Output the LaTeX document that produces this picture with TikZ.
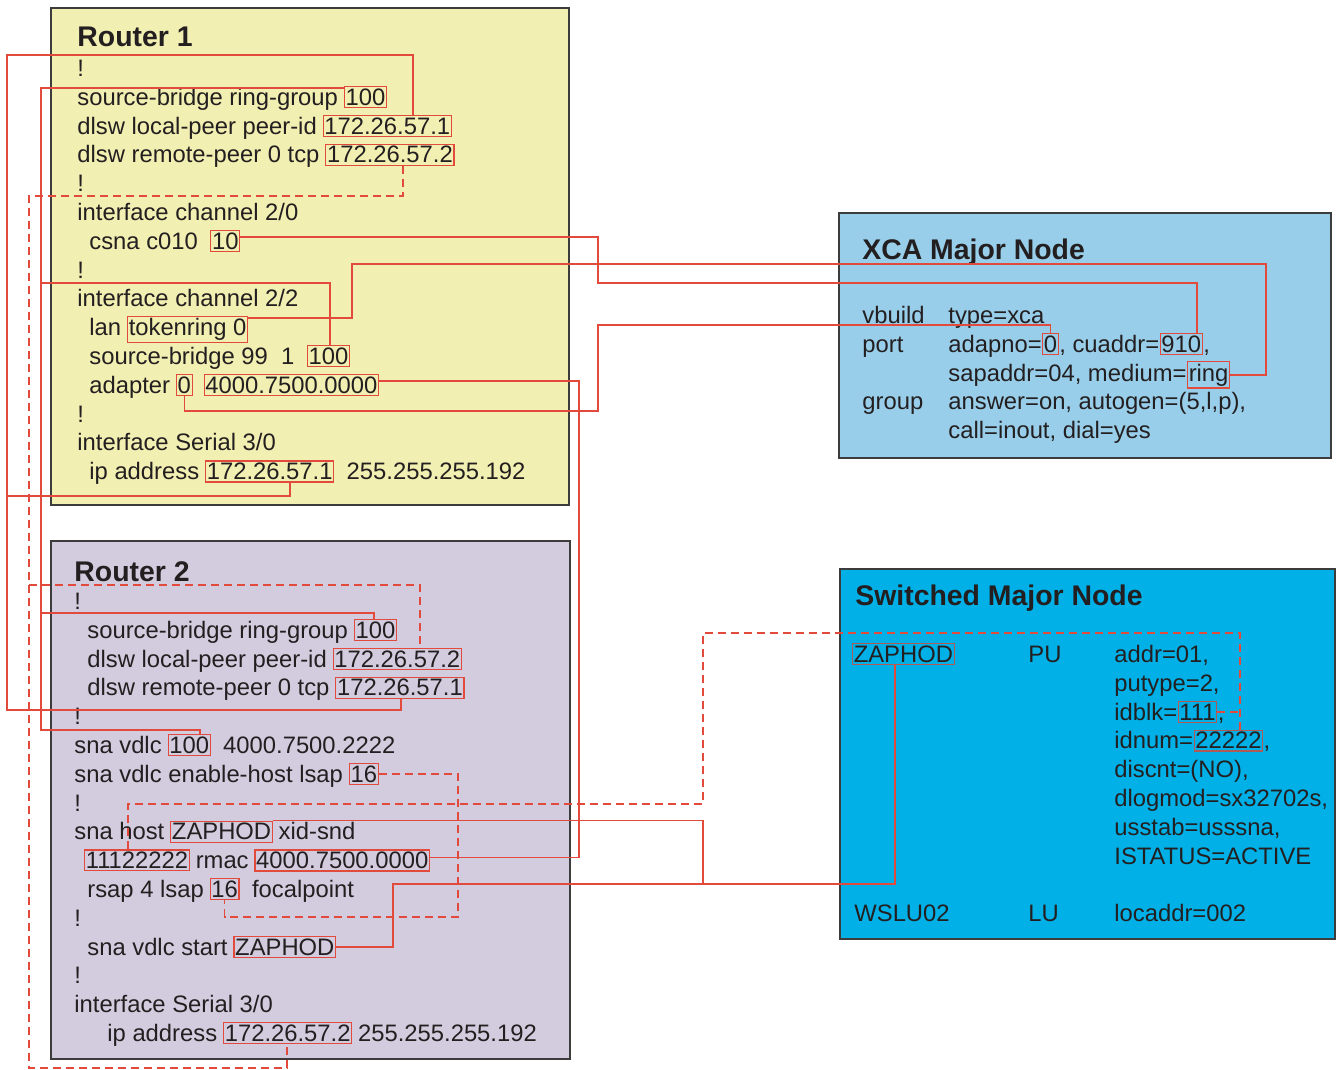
\documentclass[tikz,border=0pt]{standalone}
\usepackage{fontspec}
\setmainfont{Liberation Sans}
\definecolor{rOnec}{HTML}{F2EFB2}
\definecolor{rTwoc}{HTML}{D2CCDE}
\definecolor{xcac}{HTML}{98CEEA}
\definecolor{swc}{HTML}{00B0E6}
\definecolor{panelc}{HTML}{3C3C3C}
\definecolor{lnred}{HTML}{E24A3B}
\definecolor{svalc}{HTML}{B05A55}
\definecolor{txtc}{HTML}{231F20}
\newcommand\mainsz{\fontsize{11.9}{14}\selectfont}
\newcommand\ttlsz{\fontsize{14.2}{17}\selectfont\bfseries}
\begin{document}
\begin{tikzpicture}[x=0.5pt,y=-0.5pt,
 txt/.style={inner sep=0pt, anchor=base west, font=\mainsz, text=txtc},
 ttl/.style={inner sep=0pt, anchor=base west, font=\ttlsz, text=txtc},
 val/.style={txt, draw=lnred, line width=0.6pt, inner xsep=0.6pt, inner ysep=1pt},
 sval/.style={val, draw=svalc},
 con/.style={draw=lnred, line width=0.7pt},
 dcon/.style={con, dash pattern=on 4pt off 2.5pt},
 panel/.style={draw=panelc, line width=0.8pt}]
\useasboundingbox (0,0) rectangle (1338,1070);
\fill[white] (0,0) rectangle (1338,1070);
% panels
\draw[panel, fill=rOnec] (51,8) rectangle (569,505);
\draw[panel, fill=rTwoc] (51,541) rectangle (570,1059);
\draw[panel, fill=xcac] (839,213) rectangle (1331,458);
\draw[panel, fill=swc] (840,569) rectangle (1335,939);
% Router 1
\node[ttl] (r1t) at (77,47) {Router 1};
\node[txt] (r1b0) at (77,76.5) {!};
\node[txt] (r1l1) at (77,105.3) {source-bridge ring-group};
\node[val] (r1rg) at ([xshift=2.7pt]r1l1.base east) {100};
\node[txt] (r1l2) at (77,134.1) {dlsw local-peer peer-id};
\node[val] (r1lp) at ([xshift=2.7pt]r1l2.base east) {172.26.57.1};
\node[txt] (r1l3) at (77,162.9) {dlsw remote-peer 0 tcp};
\node[val] (r1rp) at ([xshift=2.7pt]r1l3.base east) {172.26.57.2};
\node[txt] (r1b4) at (77,191.7) {!};
\node[txt] (r1l5) at (77,220.5) {interface channel 2/0};
\node[txt] (r1l6) at (89,249.3) {csna c010};
\node[val] (r1cu) at ([xshift=6pt]r1l6.base east) {10};
\node[txt] (r1b7) at (77,278.1) {!};
\node[txt] (r1l8) at (77,306.9) {interface channel 2/2};
\node[txt] (r1l9) at (89,335.7) {lan};
\node[val] (r1tr) at ([xshift=2.7pt]r1l9.base east) {tokenring 0};
\node[txt] (r1l10) at (89,364.5) {source-bridge 99\ \ 1};
\node[val] (r1sb) at ([xshift=6pt]r1l10.base east) {100};
\node[txt] (r1l11) at (89,393.3) {adapter};
\node[val] (r1ad) at ([xshift=2.7pt]r1l11.base east) {0};
\node[val] (r1mac) at ([xshift=5.4pt]r1ad.base east) {4000.7500.0000};
\node[txt] (r1b12) at (77,422.1) {!};
\node[txt] (r1l13) at (77,450.9) {interface Serial 3/0};
\node[txt] (r1l14) at (89,479.7) {ip address};
\node[val] (r1ip) at ([xshift=2.7pt]r1l14.base east) {172.26.57.1};
\node[txt] (r1mask) at ([xshift=6pt]r1ip.base east) {255.255.255.192};
% Router 2
\node[ttl] (r2t) at (74,581) {Router 2};
\node[txt] (r2b0) at (74,609.5) {!};
\node[txt] (r2l1) at (87,638.3) {source-bridge ring-group};
\node[val] (r2rg) at ([xshift=2.7pt]r2l1.base east) {100};
\node[txt] (r2l2) at (87,667.1) {dlsw local-peer peer-id};
\node[val] (r2lp) at ([xshift=2.7pt]r2l2.base east) {172.26.57.2};
\node[txt] (r2l3) at (87,695.9) {dlsw remote-peer 0 tcp};
\node[val] (r2rp) at ([xshift=2.7pt]r2l3.base east) {172.26.57.1};
\node[txt] (r2b4) at (74,724.7) {!};
\node[txt] (r2l5) at (74,753.5) {sna vdlc};
\node[val] (r2vd) at ([xshift=2.7pt]r2l5.base east) {100};
\node[txt] (r2l5b) at ([xshift=6pt]r2vd.base east) {4000.7500.2222};
\node[txt] (r2l6) at (74,782.3) {sna vdlc enable-host lsap};
\node[val] (r2lsap) at ([xshift=2.7pt]r2l6.base east) {16};
\node[txt] (r2b7) at (74,811.1) {!};
\node[txt] (r2l8) at (74,839.9) {sna host};
\node[val] (r2host) at ([xshift=2.7pt]r2l8.base east) {ZAPHOD};
\node[txt] (r2l8b) at ([xshift=2.7pt]r2host.base east) {xid-snd};
\node[val] (r2id) at (84,868.7) {11122222};
\node[txt] (r2l9) at ([xshift=2.7pt]r2id.base east) {rmac};
\node[val] (r2mac) at ([xshift=2.7pt]r2l9.base east) {4000.7500.0000};
\node[txt] (r2l10) at (87,897.5) {rsap 4 lsap};
\node[val] (r2rsap) at ([xshift=2.7pt]r2l10.base east) {16};
\node[txt] (r2l10b) at ([xshift=6pt]r2rsap.base east) {focalpoint};
\node[txt] (r2b11) at (74,926.3) {!};
\node[txt] (r2l12) at (87,955.1) {sna vdlc start};
\node[val] (r2start) at ([xshift=2.7pt]r2l12.base east) {ZAPHOD};
\node[txt] (r2b13) at (74,983.9) {!};
\node[txt] (r2l14) at (74,1012.7) {interface Serial 3/0};
\node[txt] (r2l15) at (107,1041.5) {ip address};
\node[val] (r2ip) at ([xshift=2.7pt]r2l15.base east) {172.26.57.2};
\node[txt] (r2mask) at ([xshift=2.7pt]r2ip.base east) {255.255.255.192};
% XCA
\node[ttl] (xt) at (862,259) {XCA Major Node};
\node[txt] (xk0) at (862,323.5) {vbuild};
\node[txt] (xv0) at (948,323.5) {type=xca};
\node[txt] (xk1) at (862,352.3) {port};
\node[txt] (xv1) at (948,352.3) {adapno=};
\node[val] (x0) at (xv1.base east) {0};
\node[txt] (xv1b) at (x0.base east) {, cuaddr=};
\node[val] (x910) at (xv1b.base east) {910};
\node[txt] (xv1c) at (x910.base east) {,};
\node[txt] (xv2) at (948,381.1) {sapaddr=04, medium=};
\node[val] (xring) at (xv2.base east) {ring};
\node[txt] (xk3) at (862,409.9) {group};
\node[txt] (xv3) at (948,409.9) {answer=on, autogen=(5,l,p),};
\node[txt] (xv4) at (948,438.7) {call=inout, dial=yes};
% Switched
\node[ttl] (st) at (855,605) {Switched Major Node};
\node[sval] (szap) at (852,662.5) {ZAPHOD};
\node[txt] (spu) at (1028,662.5) {PU};
\node[txt] (sv0) at (1114,662.5) {addr=01,};
\node[txt] (sv1) at (1114,691.3) {putype=2,};
\node[txt] (sv2) at (1114,720.1) {idblk=};
\node[sval] (s111) at (sv2.base east) {111};
\node[txt] (sv2b) at (s111.base east) {,};
\node[txt] (sv3) at (1114,748.9) {idnum=};
\node[sval] (s222) at (sv3.base east) {22222};
\node[txt] (sv3b) at (s222.base east) {,};
\node[txt] (sv4) at (1114,777.7) {discnt=(NO),};
\node[txt] (sv5) at (1114,806.5) {dlogmod=sx32702s,};
\node[txt] (sv6) at (1114,835.3) {usstab=usssna,};
\node[txt] (sv7) at (1114,864.1) {ISTATUS=ACTIVE};
\node[txt] (slu) at (854,921.5) {WSLU02};
\node[txt] (slu2) at (1028,921.5) {LU};
\node[txt] (slu3) at (1114,921.5) {locaddr=002};
% connectors
% A: 172.26.57.1
\draw[con] (r1lp.north -| 413,0) -- (413,55) -- (7,55) -- (7,710) -- (401,710) -- (r2rp.south -| 401,0);
\coordinate (jA) at (7,496);
\draw[con] (jA) -- (290,496) -- (r1ip.south -| 290,0);
% B: 172.26.57.2
\draw[dcon] (r1rp.south -| 403,0) -- (403,196) -- (29,196) -- (29,1068) -- (287,1068) -- (r2ip.south -| 287,0);
\coordinate (jB) at (29,585);
\draw[dcon] (jB) -- (420,585) -- (r2lp.north -| 420,0);
% C: 100
\draw[con] ([yshift=-1pt]r1rg.north west) -| (41,730) -- (200,730) -- (r2vd.north -| 200,0);
\coordinate (jC1) at (41,283);
\draw[con] (jC1) -- (330,283) -- (r1sb.north -| 330,0);
\coordinate (jC2) at (41,613);
\draw[con] (jC2) -- (374,613) -- (r2rg.north -| 374,0);
% D: 10 / 910
\draw[con] ([yshift=2pt]r1cu.east) -| (598,283) -| (x910.north -| 1197,0);
% E: tokenring / ring
\draw[con] ([yshift=-1pt]r1tr.north east) -| (352,264) -- (1266,264) |- (xring.east);
% F: adapter 0 / adapno 0
\draw[con] (r1ad.south) |- (598,411) -- (598,325) -| (x0.north);
% G: MAC
\draw[con] ([yshift=2pt]r1mac.east) -| (579,600) |- ([yshift=1.5pt]r2mac.east);
% H: lsap 16
\draw[dcon] (r2lsap.east) -| (458,917) -| (r2rsap.south);
% I: 11122222
\draw[dcon] (r2id.north -| 128,0) |- (703,804) |- (1240,633) -- (s222.north -| 1240,0);
\draw[dcon] (s111.east) -- (s111.east -| 1240,0);
% J: ZAPHOD
\draw[con] (r2host.north east) -| (703,884) -| (szap.south -| 895,0);
\coordinate (jJ) at (703,884);
\draw[con] (r2start.east) -| (393,884) -- (jJ);
\end{tikzpicture}
\end{document}
